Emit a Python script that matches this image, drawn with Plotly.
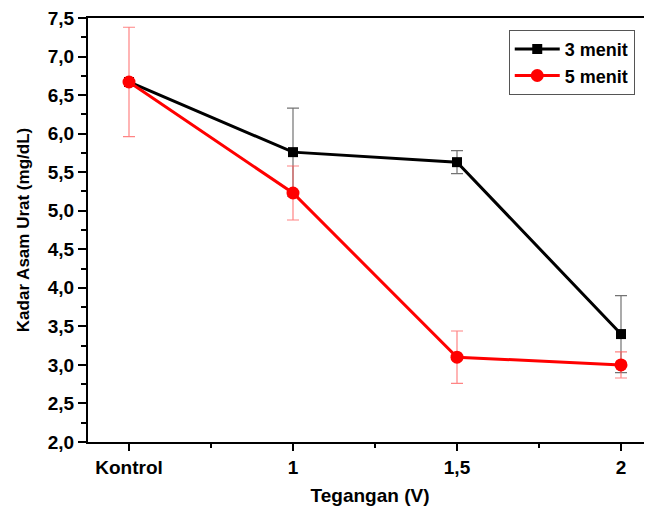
import plotly.graph_objects as go

categories = ["Kontrol", "1", "1,5", "2"]
x_pos = [0, 1, 2, 3]
menit3 = [6.67, 5.76, 5.63, 3.40]
menit3_err = [0.0, 0.57, 0.15, 0.50]
menit5 = [6.67, 5.23, 3.10, 3.00]
menit5_err = [0.71, 0.35, 0.34, 0.17]
y_ticks = [2.0, 2.5, 3.0, 3.5, 4.0, 4.5, 5.0, 5.5, 6.0, 6.5, 7.0, 7.5]
y_ticktext = ["2,0", "2,5", "3,0", "3,5", "4,0", "4,5", "5,0", "5,5", "6,0", "6,5", "7,0", "7,5"]

font_family = "Liberation Sans, Arial, sans-serif"

fig = go.Figure()
fig.add_trace(go.Scatter(
    x=x_pos, y=menit3, name="3 menit", mode="lines+markers",
    line=dict(color="black", width=3),
    marker=dict(symbol="square", size=10, color="black"),
    error_y=dict(type="data", array=menit3_err, visible=True,
                 color="rgba(80,80,80,0.8)", thickness=1.2, width=6),
))
fig.add_trace(go.Scatter(
    x=x_pos, y=menit5, name="5 menit", mode="lines+markers",
    line=dict(color="#ff0000", width=3),
    marker=dict(symbol="circle", size=13, color="#ff0000"),
    error_y=dict(type="data", array=menit5_err, visible=True,
                 color="rgba(255,80,80,0.7)", thickness=1.2, width=6),
))

fig.update_layout(
    width=644, height=508,
    margin=dict(l=80, r=0, t=10, b=74, autoexpand=False),
    paper_bgcolor="white", plot_bgcolor="white",
    font=dict(family=font_family, color="black"),
    showlegend=True,
    legend=dict(
        x=0.746, y=0.972, xanchor="left", yanchor="top",
        bordercolor="#555555", borderwidth=1, bgcolor="white",
        font=dict(family=font_family, size=18, color="black", weight="bold"),
        tracegroupgap=0, itemwidth=45,
    ),
    xaxis=dict(
        range=[-0.25, 3.189], automargin=False,
        tickmode="array", tickvals=x_pos, ticktext=categories,
        showline=True, linecolor="black", linewidth=2, mirror=True,
        ticks="outside", ticklen=7, tickwidth=2, tickcolor="black",
        minor=dict(tickvals=[0.5, 1.5, 2.5], ticks="outside", ticklen=4, tickwidth=2, tickcolor="black"),
        showgrid=False, zeroline=False,
        tickfont=dict(size=19, family=font_family, weight="bold"),
        title=dict(text="Tegangan (V)", font=dict(size=19, family=font_family, weight="bold"), standoff=12),
    ),
    yaxis=dict(
        range=[2.0, 7.5], automargin=False, ticklabeloverflow="allow",
        tickmode="array", tickvals=y_ticks, ticktext=y_ticktext,
        showline=True, linecolor="black", linewidth=2,
        ticks="outside", ticklen=8, tickwidth=2, tickcolor="black",
        minor=dict(dtick=0.25, tick0=2.0, ticks="outside", ticklen=5, tickwidth=2, tickcolor="black"),
        showgrid=False, zeroline=False,
        tickfont=dict(size=19, family=font_family, weight="bold"),
        title=dict(text="Kadar Asam Urat (mg/dL)", font=dict(size=17, family=font_family, weight="bold"), standoff=14),
    ),
)

fig.write_html("out.html")
